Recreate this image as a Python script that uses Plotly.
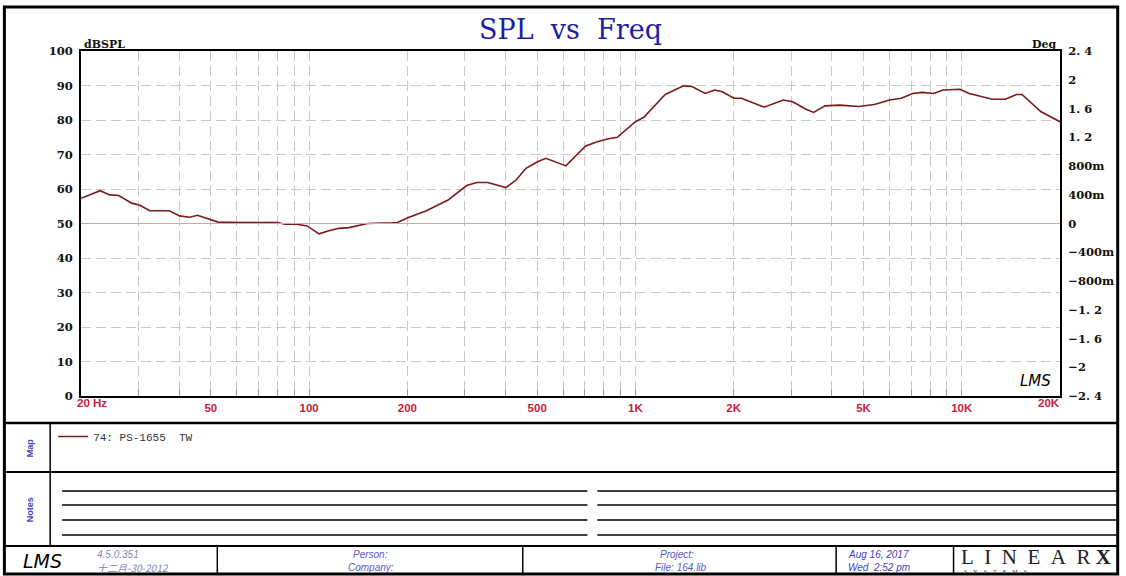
import plotly.graph_objects as go
import math

# ---------------- data ----------------
freq_hz = [20, 22.9, 24.5, 26.1, 28.6, 30.3, 32.5, 37.3, 40.1, 43.0, 45.5, 48.3, 52.6,
           62.5, 72, 80, 84.3, 91.9, 98.6, 107.2, 115, 123.3, 132.4, 143.9, 150.9, 180,
           186.4, 202.4, 227.9, 266.6, 303.9, 326.9, 352.7, 401, 431, 462, 501, 532, 577,
           612, 704, 764, 820, 880, 1000, 1061, 1234, 1405, 1490, 1636, 1748, 1846, 2004,
           2112, 2480, 2838, 3033, 3331, 3516, 3809, 4237, 4843, 5396, 6012, 6527, 7076,
           7559, 8200, 8757, 9870, 10540, 12400, 13600, 14700, 15300, 17500, 20000]
spl_db = [57.3, 59.5, 58.3, 58.1, 55.9, 55.3, 53.7, 53.7, 52.2, 51.8, 52.4, 51.5, 50.4,
          50.3, 50.3, 50.3, 49.8, 49.8, 49.3, 47.0, 47.9, 48.6, 48.8, 49.7, 50.0, 50.2,
          50.3, 51.8, 53.6, 56.8, 61.0, 61.9, 61.9, 60.4, 62.6, 66.0, 67.9, 68.9, 67.7,
          66.7, 72.5, 73.7, 74.5, 75.0, 79.5, 80.8, 87.4, 89.9, 89.7, 87.7, 88.7, 88.2, 86.3,
          86.3, 83.7, 85.8, 85.3, 83.1, 82.2, 84.1, 84.3, 83.9, 84.5, 85.8, 86.3, 87.7,
          88.0, 87.7, 88.7, 88.9, 87.7, 86.0, 86.0, 87.4, 87.4, 82.4, 79.5]
phase_freq = [20, 20000]
phase_deg = [0, 0]
trace_name = "74: PS-1655  TW"

grid_freqs = [20, 30, 40, 50, 60, 70, 80, 90, 100, 200, 300, 400, 500, 600, 700, 800, 900,
              1000, 2000, 3000, 4000, 5000, 6000, 7000, 8000, 9000, 10000, 20000]
x_label_vals = [50, 100, 200, 500, 1000, 2000, 5000, 10000]
x_label_text = ["50", "100", "200", "500", "1K", "2K", "5K", "10K"]
x_first_label = "20 Hz"
x_last_label = "20K"
y_left_ticks = [0, 10, 20, 30, 40, 50, 60, 70, 80, 90, 100]
y_right_vals = [-2.4, -2.0, -1.6, -1.2, -0.8, -0.4, 0, 0.4, 0.8, 1.2, 1.6, 2.0, 2.4]
y_right_text = ["\u22122. 4", "\u22122", "\u22121. 6", "\u22121. 2", "\u2212800m", "\u2212400m",
                "0", "400m", "800m", "1. 2", "1. 6", "2", "2. 4"]

# ---------------- layout geometry ----------------
W, H = 1126, 576
L, R, T, B = 81, 1065, 51, 396


def px(X):
    return (X - L) / (R - L)


def py(Y):
    return (B - Y) / (B - T)


fig = go.Figure()
fig.add_trace(go.Scatter(x=phase_freq, y=phase_deg, yaxis="y2", mode="lines",
                         line=dict(color="#dba3a3", width=1.2), showlegend=False,
                         hoverinfo="skip"))
fig.add_trace(go.Scatter(x=freq_hz, y=spl_db, mode="lines", name=trace_name,
                         line=dict(color="#7a1a1a", width=1.6)))

grid_text = [x_label_text[x_label_vals.index(f)] if f in x_label_vals else "" for f in grid_freqs]

serif_bold = dict(family="DejaVu Serif", size=11.5, color="#111111", weight="bold")

fig.update_layout(
    width=W, height=H, autosize=False,
    margin=dict(l=L, r=W - R, t=T, b=H - B, pad=0),
    paper_bgcolor="white", plot_bgcolor="white",
    showlegend=True,
    legend=dict(x=px(53), y=py(422), xanchor="left", yanchor="top",
                bgcolor="rgba(0,0,0,0)", itemwidth=30,
                font=dict(family="Liberation Mono", size=11, color="#333333")),
    title=dict(text="SPL\u00a0\u00a0vs\u00a0\u00a0Freq", x=0.5, xref="paper", xanchor="center",
               y=1 - 30 / H, yanchor="middle",
               font=dict(family="DejaVu Serif", size=27, color="#1e1ea8")),
    xaxis=dict(type="log", range=[math.log10(20), math.log10(20000)],
               tickvals=grid_freqs, ticktext=grid_text,
               tickfont=dict(family="Liberation Sans", size=11.5, color="#c8203a", weight="bold"),
               showgrid=True, gridcolor="#c8c8c8", gridwidth=1, griddash="10px,5px",
               ticks="inside", ticklen=6, tickcolor="#999999",
               showline=True, linecolor="black", linewidth=2, mirror=True,
               zeroline=False, fixedrange=True),
    yaxis=dict(range=[0, 100], tickvals=y_left_ticks,
               tickfont=serif_bold, ticks="", ticklabelstandoff=4,
               showgrid=True, gridcolor="#c8c8c8", gridwidth=1, griddash="10px,5px",
               showline=True, linecolor="black", linewidth=2,
               zeroline=False, fixedrange=True),
    yaxis2=dict(range=[-2.4, 2.4], overlaying="y", side="right",
                tickvals=y_right_vals, ticktext=y_right_text,
                tickfont=serif_bold, ticks="", ticklabelstandoff=4,
                showgrid=False, showline=True, linecolor="black", linewidth=2,
                zeroline=False, fixedrange=True),
)

shapes = []


def hline(Y, x0, x1, w=1.5, color="black"):
    shapes.append(dict(type="line", xref="paper", yref="paper", x0=px(x0), x1=px(x1),
                       y0=py(Y), y1=py(Y), line=dict(color=color, width=w)))


def vline(X, y0, y1, w=1.5, color="black"):
    shapes.append(dict(type="line", xref="paper", yref="paper", x0=px(X), x1=px(X),
                       y0=py(y0), y1=py(y1), line=dict(color=color, width=w)))


# outer frame
shapes.append(dict(type="rect", xref="paper", yref="paper", x0=px(4), x1=px(1123),
                   y0=py(574), y1=py(7), line=dict(color="black", width=3)))
hline(423, 4, 1123, 2.5)
hline(472, 4, 1123, 2)
hline(546, 4, 1123, 2)
vline(50, 423, 546, 1.5)
for yy in [491, 505, 520, 535]:
    hline(yy, 62, 590, 1.5)
    hline(yy, 600, 1122, 1.5)
for xx in [218, 525, 840, 958]:
    vline(xx, 546, 574, 1.5)
fig.update_layout(shapes=shapes)

ann = []


def text(X, Y, s, size=10, color="black", family="Liberation Sans", anchor="left",
         angle=0, italic=False, bold=False):
    f = dict(family=family, size=size, color=color)
    if italic:
        f["style"] = "italic"
    if bold:
        f["weight"] = "bold"
    ann.append(dict(xref="paper", yref="paper", x=px(X), y=py(Y), text=s, showarrow=False,
                    xanchor=anchor, yanchor="middle", textangle=angle, font=f))


# axis unit labels
text(82, 44, "dBSPL", 11, "#111111", "DejaVu Serif", "left", bold=True)
text(1064, 44, "Deg", 11, "#111111", "DejaVu Serif", "right", bold=True)
# end x labels
ann.append(dict(xref="x", yref="paper", x=math.log10(20), y=py(403), text=x_first_label,
                showarrow=False, xanchor="left", yanchor="middle", xshift=-6,
                font=dict(family="Liberation Sans", size=11.5, color="#c8203a", weight="bold")))
ann.append(dict(xref="x", yref="paper", x=math.log10(20000), y=py(403), text=x_last_label,
                showarrow=False, xanchor="right", yanchor="middle", xshift=2,
                font=dict(family="Liberation Sans", size=11.5, color="#c8203a", weight="bold")))
# LMS logo inside plot
text(1040, 381, "LMS", 15, "black", "DejaVu Sans", "center", italic=True)
# section labels
text(30, 448, "Map", 9, "#4545c0", "Liberation Sans", "center", angle=-90, bold=True)
text(30, 510, "Notes", 9, "#4545c0", "Liberation Sans", "center", angle=-90, bold=True)
# footer
text(42, 561, "LMS", 19, "black", "DejaVu Sans", "center", italic=True)
text(95, 554, "4.5.0.351", 10, "#8585b5", "Liberation Sans", "left", italic=True)
text(95, 567, "十二月-30-2012", 10, "#8585b5", "Noto Sans CJK SC", "left", italic=True)
text(372, 554, "Person:", 10, "#5a5ac0", "Liberation Sans", "center", italic=True)
text(372, 567, "Company:", 10, "#5a5ac0", "Liberation Sans", "center", italic=True)
text(680, 554, "Project:", 10, "#5a5ac0", "Liberation Sans", "center", italic=True)
text(684, 567, "File: 164.lib", 10, "#5a5ac0", "Liberation Sans", "center", italic=True)
text(850, 554, "Aug 16, 2017", 10, "#4444c0", "Liberation Sans", "left", italic=True)
text(850, 567, "Wed  2:52 pm", 10, "#4444c0", "Liberation Sans", "left", italic=True)
text(963, 557, "L\u00a0\u00a0I\u00a0\u00a0N\u00a0\u00a0E\u00a0\u00a0A\u00a0\u00a0R\u00a0<b>X</b>",
     21, "#222222", "Liberation Serif", "left")
text(966, 572, "S\u00a0\u00a0\u00a0\u00a0Y\u00a0\u00a0\u00a0\u00a0S\u00a0\u00a0\u00a0\u00a0T"
     "\u00a0\u00a0\u00a0\u00a0E\u00a0\u00a0\u00a0\u00a0M\u00a0\u00a0\u00a0\u00a0S",
     6, "#333333", "Liberation Serif", "left")
fig.update_layout(annotations=ann)

fig.write_html("out.html", config={"displayModeBar": False},
               post_script="document.body.style.margin='0';document.body.style.overflow='hidden';")
